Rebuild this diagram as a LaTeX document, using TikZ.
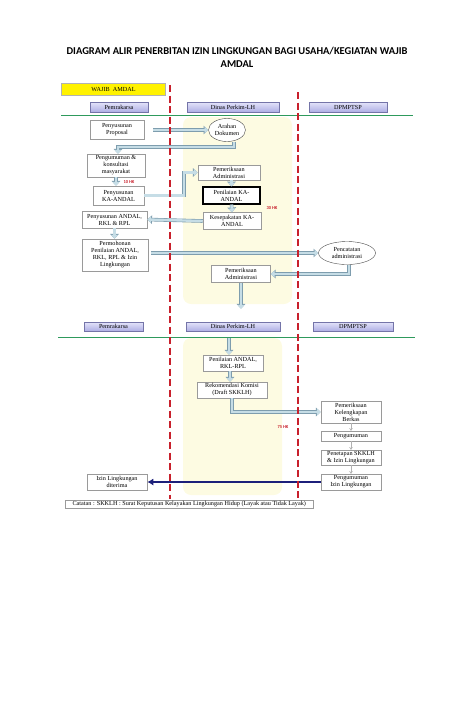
\documentclass[tikz,border=0pt]{standalone}
\usepackage{fontspec}
\setmainfont{Liberation Serif}
\newfontfamily\titlefont{Carlito}
\usetikzlibrary{shapes.geometric,arrows.meta}

\definecolor{arrowfill}{HTML}{C6DDE6}
\definecolor{arrowedge}{HTML}{7E9DAE}
\definecolor{boxedge}{HTML}{9A9A9A}
\definecolor{cream}{HTML}{FDFBE2}
\definecolor{laneRed}{HTML}{C8202C}
\definecolor{laneGreen}{HTML}{2E9A5C}
\definecolor{headtop}{HTML}{E4E4FA}
\definecolor{headbot}{HTML}{AEAEE4}
\definecolor{headedge}{HTML}{7474A8}
\definecolor{navy}{HTML}{1C1F7A}

\newcommand{\boxfont}{\fontsize{6.2}{7}\selectfont}
\newcommand{\headfont}{\fontsize{6.2}{7}\selectfont}
\newcommand{\hkfont}{\titlefont\bfseries\fontsize{4.5}{5}\selectfont}

\tikzset{
  stepbox/.style={draw=boxedge, fill=white, line width=0.5pt, align=center,
    inner sep=0pt, font=\boxfont},
  keybox/.style={stepbox, draw=black, line width=1.1pt},
  roundbox/.style={ellipse, draw=black!70, fill=white, line width=0.4pt,
    align=center, inner sep=0pt, font=\boxfont},
  lanehead/.style={draw=headedge, top color=headtop, bottom color=headbot,
    line width=0.5pt, minimum height=10pt, inner sep=0pt, font=\headfont},
  flow/.style={draw=arrowfill, line width=2.4pt,
    -{Triangle[length=3.8pt,width=6.5pt,fill=arrowfill]},
    preaction={draw=arrowedge, line width=3.6pt,
      -{Triangle[length=4.8pt,width=8.5pt]}}},
  tinyarrow/.style={draw=gray!60, line width=0.9pt, -{Stealth[length=2.5pt,width=3.5pt]}},
  hklabel/.style={text=laneRed, font=\hkfont},
  laneline/.style={laneRed, line width=1.4pt, dash pattern=on 7pt off 3.5pt}
}

\begin{document}
\begin{tikzpicture}[x=1pt, y=-1pt]
  \useasboundingbox (0,0) rectangle (474,724);
  % cream background of the Dinas lane
  \fill[cream, rounded corners=8pt] (183,117) rectangle (292,304);
  \fill[cream, rounded corners=8pt] (183,338) rectangle (282,495);

  % title
  \node[align=center, font=\titlefont\bfseries\fontsize{10.5}{13}\selectfont] (title) at (237,57.5)
    {DIAGRAM ALIR PENERBITAN IZIN LINGKUNGAN BAGI USAHA/KEGIATAN WAJIB\\AMDAL};

  \node[draw=gray!60, fill=yellow, minimum width=104pt, minimum height=12pt, inner sep=0pt,
    font=\boxfont] (wajib) at (113.5,89) {WAJIB\ \ AMDAL};

  % lane headers (upper)
  \node[lanehead, minimum width=58pt] (headA1) at (119,107) {Pemrakarsa};
  \node[lanehead, minimum width=92pt] (headB1) at (233,107) {Dinas Perkim-LH};
  \node[lanehead, minimum width=78pt] (headC1) at (348,107) {DPMPTSP};
  \draw[laneGreen, line width=1pt] (61,115) -- (413,115);

  % lane headers (lower)
  \node[lanehead, minimum width=59pt, minimum height=9pt] (headA2) at (113.5,326.5) {Pemrakarsa};
  \node[lanehead, minimum width=94pt, minimum height=9pt] (headB2) at (233,326.5) {Dinas Perkim-LH};
  \node[lanehead, minimum width=80pt, minimum height=9pt] (headC2) at (353,326.5) {DPMPTSP};
  \draw[laneGreen, line width=1pt] (58,337) -- (415,337);

  % upper steps
  \node[stepbox, minimum width=54pt, minimum height=19pt] (proposal) at (117,130) {Penyusunan\\Proposal};
  \node[roundbox, minimum width=37pt, minimum height=23pt] (arahan) at (227,130) {Arahan\\Dokumen};
  \node[stepbox, minimum width=58pt, minimum height=23pt] (pengumuman) at (116,165.5) {Pengumuman \&\\konsultasi\\masyarakat};
  \node[stepbox, minimum width=51pt, minimum height=19pt] (penyusunanKA) at (118.5,195.5) {Penyusunan\\KA-ANDAL};
  \node[stepbox, minimum width=62pt, minimum height=15pt] (pemeriksaanA) at (229,172.5) {Pemeriksaan\\Administrasi};
  \node[keybox, minimum width=57pt, minimum height=17pt] (penilaianKA) at (231.5,195.5) {Penilaian KA-\\ANDAL};
  \node[stepbox, minimum width=58pt, minimum height=17pt] (kesepakatan) at (232,221) {Kesepakatan KA-\\ANDAL};
  \node[stepbox, minimum width=65pt, minimum height=17pt] (penyusunanAndal) at (114.5,219.5) {Penyusunan ANDAL,\\RKL \& RPL};
  \node[stepbox, minimum width=66pt, minimum height=32pt] (permohonan) at (115,255) {Permohonan\\Penilaian ANDAL,\\RKL, RPL \& Izin\\Lingkungan};
  \node[roundbox, minimum width=57pt, minimum height=23pt] (pencatatan) at (347,253) {Pencatatan\\administrasi};
  \node[stepbox, minimum width=59pt, minimum height=17pt] (pemeriksaanB) at (241,274) {Pemeriksaan\\Administrasi};

  % lower steps
  \node[stepbox, minimum width=60pt, minimum height=16pt] (penilaianAndal) at (233,363) {Penilaian ANDAL,\\RKL-RPL};
  \node[stepbox, minimum width=70pt, minimum height=16pt] (rekomendasi) at (232,390) {Rekomendasi Komisi\\(Draft SKKLH)};
  \node[stepbox, minimum width=60pt, minimum height=22pt] (kelengkapan) at (351,412) {Pemeriksaan\\Kelengkapan\\Berkas};
  \node[stepbox, minimum width=60pt, minimum height=10pt] (pengumumanB) at (351,436) {Pengumuman};
  \node[stepbox, minimum width=60pt, minimum height=15pt] (penetapan) at (351,457.5) {Penetapan SKKLH\\\& Izin Lingkungan};
  \node[stepbox, minimum width=60pt, minimum height=16pt] (pengumumanIzin) at (351,482) {Pengumuman\\Izin Lingkungan};
  \node[stepbox, minimum width=60pt, minimum height=16pt] (izin) at (117,482) {Izin Lingkungan\\diterima};
  \node[stepbox, minimum width=248pt, minimum height=8pt, anchor=west, inner xsep=2pt] (catatan) at (65,504)
    {Catatan : SKKLH : Surat Keputusan Kelayakan Lingkungan Hidup (Layak atau Tidak Layak)};

  % flow arrows (upper)
  \draw[flow, shorten <=9pt] (proposal.east) -- (arahan.west);
  \draw[flow] ([xshift=7pt]arahan.south) -- ++(0,5) -| ([xshift=2pt]pengumuman.north);
  \draw[flow] (pengumuman.south) -- (pengumuman.south |- penyusunanKA.north);
  \node[hklabel] (hkA) at (129,182) {10 HK};
  \draw[flow] (penyusunanKA.east) -- ++(40,0) |- (pemeriksaanA.west);
  \draw[flow] (pemeriksaanA.south -| penilaianKA) -- (penilaianKA.north);
  \draw[flow] (penilaianKA.south) -- (kesepakatan.north);
  \node[hklabel] (hkB) at (272,208) {30 HK};
  \draw[flow] (kesepakatan.west) -- (penyusunanAndal.east);
  \draw[flow] (penyusunanAndal.south) -- (penyusunanAndal.south |- permohonan.north);
  \draw[flow, shorten <=3pt] (permohonan.east |- pencatatan.west) -- (pencatatan.west);
  \draw[flow] ([xshift=2pt]pencatatan.south) |- (pemeriksaanB.east);
  \draw[flow] (pemeriksaanB.south) -- ++(0,26);

  % flow arrows (lower)
  \draw[flow] ([xshift=-4pt,yshift=-7pt]headB2.south) -- ([xshift=-4pt]penilaianAndal.north);
  \draw[flow] ([xshift=-3pt]penilaianAndal.south) -- ([xshift=-2pt]rekomendasi.north);
  \draw[flow] (rekomendasi.south) |- (kelengkapan.west);
  \node[hklabel] (hkC) at (283,427) {75 HK};
  \draw[tinyarrow] (kelengkapan.south) -- (pengumumanB.north);
  \draw[tinyarrow] (pengumumanB.south) -- (penetapan.north);
  \draw[tinyarrow] (penetapan.south) -- (pengumumanIzin.north);
  \draw[navy, line width=2.6pt, -{Latex[length=6pt,width=7pt]}] (pengumumanIzin.west) -- (izin.east);

  % lane separators
  \draw[laneline] (170,85) -- (170,499);
  \draw[laneline] (298,92) -- (298,499);
\end{tikzpicture}
\end{document}
